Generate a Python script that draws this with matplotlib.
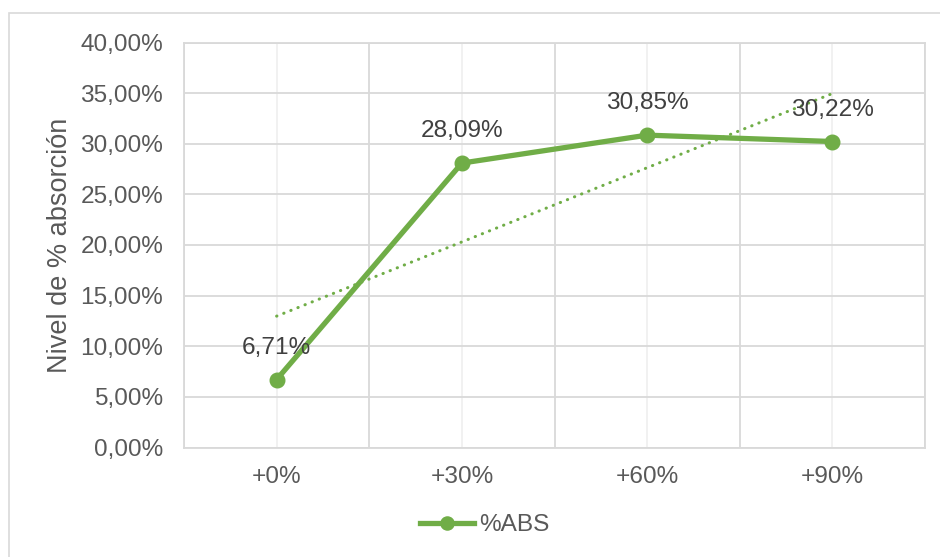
import numpy as np
import matplotlib
matplotlib.use("Agg")
import matplotlib.pyplot as plt
from matplotlib.patches import Rectangle
from matplotlib.ticker import FuncFormatter

# data
categorias = ["+0%", "+30%", "+60%", "+90%"]
absorcion = [0.0671, 0.2809, 0.3085, 0.3022]
serie = "%ABS"
eje_y = "Nivel de % absorción"

verde = "#70AD47"
gris_txt = "#595959"
gris_lab = "#404040"
gris_rejilla = "#D9D9D9"
fs = 17.6

plt.rcParams['font.family'] = ['Liberation Sans', 'DejaVu Sans']

fig = plt.figure(figsize=(9.4, 5.57), dpi=100)
ax = fig.add_axes([184 / 940, 1 - 447.5 / 557, (925 - 184) / 940, (447.5 - 42.5) / 557])

# marco exterior del grafico
fig.patches.append(Rectangle((9 / 940, -0.1), 1.2, 1.1 - 13 / 557, transform=fig.transFigure,
                             fill=False, edgecolor=gris_rejilla, linewidth=1.2))

x = np.arange(len(categorias))
ax.plot(x, absorcion, color=verde, linewidth=3.8, marker="o", markersize=10.5,
        label=serie, zorder=3)

# linea de tendencia lineal
m, b = np.polyfit(x, absorcion, 1)
ax.plot(x, m * x + b, color=verde, linewidth=2.2, linestyle=(0, (0.1, 2.4)),
        dash_capstyle="round", zorder=2)

for xi, yi in zip(x, absorcion):
    ax.annotate(f"{yi * 100:.2f}%".replace(".", ","), (xi, yi), xytext=(0, 23),
                textcoords="offset points", ha="center", va="center",
                fontsize=fs, color=gris_lab, zorder=4)

ax.set_xlim(-0.5, len(categorias) - 0.5)
ax.set_ylim(0, 0.40)
ax.set_yticks(np.arange(0, 0.4001, 0.05))
ax.yaxis.set_major_formatter(FuncFormatter(lambda v, p: f"{v * 100:.2f}%".replace(".", ",")))
ax.set_xticks(x)
ax.set_xticklabels(categorias)
ax.set_xticks(np.arange(-0.5, len(categorias)), minor=True)

ax.grid(axis="y", color=gris_rejilla, linewidth=1.3)
ax.grid(axis="x", which="major", color="#F0F0F0", linewidth=1.3)
ax.grid(axis="x", which="minor", color=gris_rejilla, linewidth=1.3)
ax.set_axisbelow(True)
for s in ax.spines.values():
    s.set_color(gris_rejilla)
    s.set_linewidth(1.3)

ax.tick_params(which="both", length=0)
ax.tick_params(axis="y", labelsize=fs, labelcolor=gris_txt, pad=15)
ax.tick_params(axis="x", labelsize=fs, labelcolor=gris_txt, pad=13)

ax.set_ylabel(eje_y, fontsize=19.5, color=gris_txt)
ax.yaxis.set_label_coords(-(184 - 73) / 741, 0.5)

fig.legend(loc="center", bbox_to_anchor=(485 / 940, 1 - 525 / 557), frameon=False,
           fontsize=fs, labelcolor=gris_txt, handlelength=2.2, handletextpad=0.2,
           markerscale=0.9)

fig.savefig("out.png", dpi=100)
